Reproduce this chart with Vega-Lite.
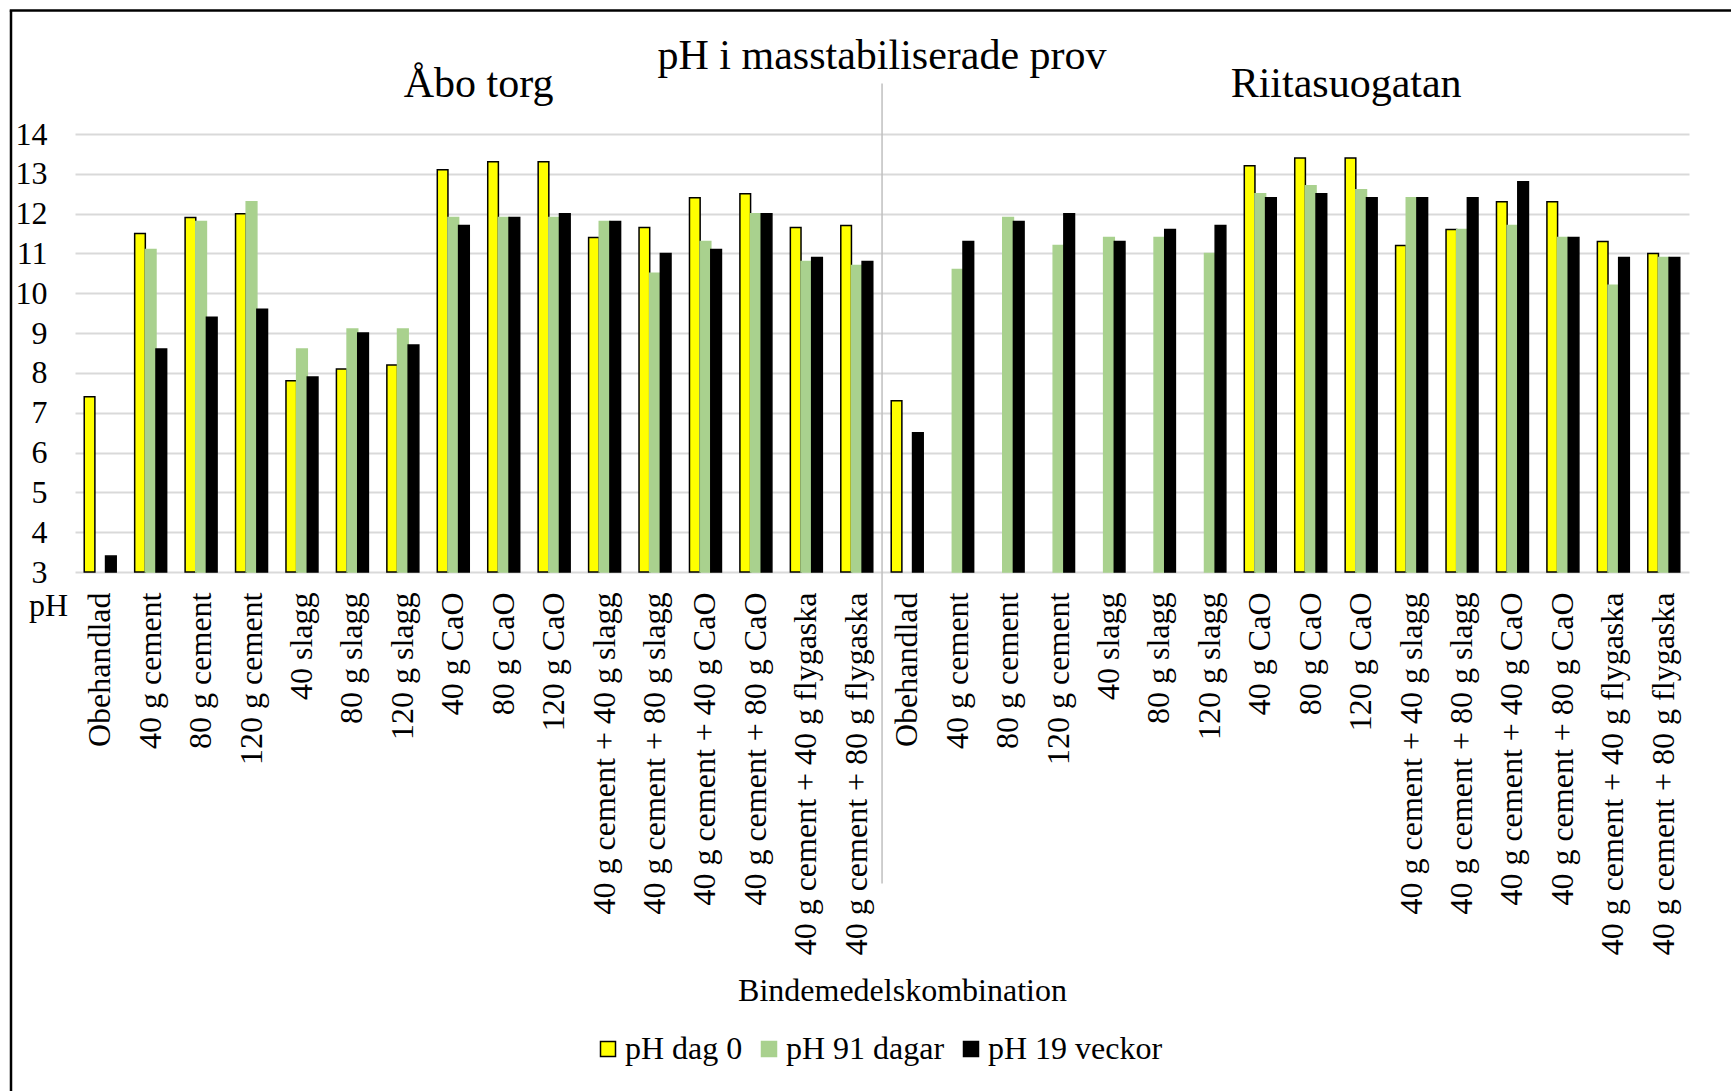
{
  "$schema": "https://vega.github.io/schema/vega-lite/v6.json",
  "width": 1614,
  "height": 438,
  "autosize": {"type": "none"},
  "padding": {"left": 75, "top": 134, "right": 42, "bottom": 519},
  "background": "white",
  "config": {"font": "Liberation Serif", "view": {"stroke": null}},
  "layer": [
    {
      "data": {"values": [
        {"key": "Åbo torg|Obehandlad", "series": "pH dag 0", "value": 7.4},
        {"key": "Åbo torg|Obehandlad", "series": "pH 19 veckor", "value": 3.4},
        {"key": "Åbo torg|40 g cement", "series": "pH dag 0", "value": 11.5},
        {"key": "Åbo torg|40 g cement", "series": "pH 91 dagar", "value": 11.1},
        {"key": "Åbo torg|40 g cement", "series": "pH 19 veckor", "value": 8.6},
        {"key": "Åbo torg|80 g cement", "series": "pH dag 0", "value": 11.9},
        {"key": "Åbo torg|80 g cement", "series": "pH 91 dagar", "value": 11.8},
        {"key": "Åbo torg|80 g cement", "series": "pH 19 veckor", "value": 9.4},
        {"key": "Åbo torg|120 g cement", "series": "pH dag 0", "value": 12.0},
        {"key": "Åbo torg|120 g cement", "series": "pH 91 dagar", "value": 12.3},
        {"key": "Åbo torg|120 g cement", "series": "pH 19 veckor", "value": 9.6},
        {"key": "Åbo torg|40 slagg", "series": "pH dag 0", "value": 7.8},
        {"key": "Åbo torg|40 slagg", "series": "pH 91 dagar", "value": 8.6},
        {"key": "Åbo torg|40 slagg", "series": "pH 19 veckor", "value": 7.9},
        {"key": "Åbo torg|80 g slagg", "series": "pH dag 0", "value": 8.1},
        {"key": "Åbo torg|80 g slagg", "series": "pH 91 dagar", "value": 9.1},
        {"key": "Åbo torg|80 g slagg", "series": "pH 19 veckor", "value": 9.0},
        {"key": "Åbo torg|120 g slagg", "series": "pH dag 0", "value": 8.2},
        {"key": "Åbo torg|120 g slagg", "series": "pH 91 dagar", "value": 9.1},
        {"key": "Åbo torg|120 g slagg", "series": "pH 19 veckor", "value": 8.7},
        {"key": "Åbo torg|40 g CaO", "series": "pH dag 0", "value": 13.1},
        {"key": "Åbo torg|40 g CaO", "series": "pH 91 dagar", "value": 11.9},
        {"key": "Åbo torg|40 g CaO", "series": "pH 19 veckor", "value": 11.7},
        {"key": "Åbo torg|80 g CaO", "series": "pH dag 0", "value": 13.3},
        {"key": "Åbo torg|80 g CaO", "series": "pH 91 dagar", "value": 11.9},
        {"key": "Åbo torg|80 g CaO", "series": "pH 19 veckor", "value": 11.9},
        {"key": "Åbo torg|120 g CaO", "series": "pH dag 0", "value": 13.3},
        {"key": "Åbo torg|120 g CaO", "series": "pH 91 dagar", "value": 11.9},
        {"key": "Åbo torg|120 g CaO", "series": "pH 19 veckor", "value": 12.0},
        {"key": "Åbo torg|40 g cement + 40 g slagg", "series": "pH dag 0", "value": 11.4},
        {"key": "Åbo torg|40 g cement + 40 g slagg", "series": "pH 91 dagar", "value": 11.8},
        {"key": "Åbo torg|40 g cement + 40 g slagg", "series": "pH 19 veckor", "value": 11.8},
        {"key": "Åbo torg|40 g cement + 80 g slagg", "series": "pH dag 0", "value": 11.65},
        {"key": "Åbo torg|40 g cement + 80 g slagg", "series": "pH 91 dagar", "value": 10.5},
        {"key": "Åbo torg|40 g cement + 80 g slagg", "series": "pH 19 veckor", "value": 11.0},
        {"key": "Åbo torg|40 g cement + 40 g CaO", "series": "pH dag 0", "value": 12.4},
        {"key": "Åbo torg|40 g cement + 40 g CaO", "series": "pH 91 dagar", "value": 11.3},
        {"key": "Åbo torg|40 g cement + 40 g CaO", "series": "pH 19 veckor", "value": 11.1},
        {"key": "Åbo torg|40 g cement + 80 g CaO", "series": "pH dag 0", "value": 12.5},
        {"key": "Åbo torg|40 g cement + 80 g CaO", "series": "pH 91 dagar", "value": 12.0},
        {"key": "Åbo torg|40 g cement + 80 g CaO", "series": "pH 19 veckor", "value": 12.0},
        {"key": "Åbo torg|40 g cement + 40 g flygaska", "series": "pH dag 0", "value": 11.65},
        {"key": "Åbo torg|40 g cement + 40 g flygaska", "series": "pH 91 dagar", "value": 10.8},
        {"key": "Åbo torg|40 g cement + 40 g flygaska", "series": "pH 19 veckor", "value": 10.9},
        {"key": "Åbo torg|40 g cement + 80 g flygaska", "series": "pH dag 0", "value": 11.7},
        {"key": "Åbo torg|40 g cement + 80 g flygaska", "series": "pH 91 dagar", "value": 10.7},
        {"key": "Åbo torg|40 g cement + 80 g flygaska", "series": "pH 19 veckor", "value": 10.8},
        {"key": "Riitasuogatan|Obehandlad", "series": "pH dag 0", "value": 7.3},
        {"key": "Riitasuogatan|Obehandlad", "series": "pH 19 veckor", "value": 6.5},
        {"key": "Riitasuogatan|40 g cement", "series": "pH 91 dagar", "value": 10.6},
        {"key": "Riitasuogatan|40 g cement", "series": "pH 19 veckor", "value": 11.3},
        {"key": "Riitasuogatan|80 g cement", "series": "pH 91 dagar", "value": 11.9},
        {"key": "Riitasuogatan|80 g cement", "series": "pH 19 veckor", "value": 11.8},
        {"key": "Riitasuogatan|120 g cement", "series": "pH 91 dagar", "value": 11.2},
        {"key": "Riitasuogatan|120 g cement", "series": "pH 19 veckor", "value": 12.0},
        {"key": "Riitasuogatan|40 slagg", "series": "pH 91 dagar", "value": 11.4},
        {"key": "Riitasuogatan|40 slagg", "series": "pH 19 veckor", "value": 11.3},
        {"key": "Riitasuogatan|80 g slagg", "series": "pH 91 dagar", "value": 11.4},
        {"key": "Riitasuogatan|80 g slagg", "series": "pH 19 veckor", "value": 11.6},
        {"key": "Riitasuogatan|120 g slagg", "series": "pH 91 dagar", "value": 11.0},
        {"key": "Riitasuogatan|120 g slagg", "series": "pH 19 veckor", "value": 11.7},
        {"key": "Riitasuogatan|40 g CaO", "series": "pH dag 0", "value": 13.2},
        {"key": "Riitasuogatan|40 g CaO", "series": "pH 91 dagar", "value": 12.5},
        {"key": "Riitasuogatan|40 g CaO", "series": "pH 19 veckor", "value": 12.4},
        {"key": "Riitasuogatan|80 g CaO", "series": "pH dag 0", "value": 13.4},
        {"key": "Riitasuogatan|80 g CaO", "series": "pH 91 dagar", "value": 12.7},
        {"key": "Riitasuogatan|80 g CaO", "series": "pH 19 veckor", "value": 12.5},
        {"key": "Riitasuogatan|120 g CaO", "series": "pH dag 0", "value": 13.4},
        {"key": "Riitasuogatan|120 g CaO", "series": "pH 91 dagar", "value": 12.6},
        {"key": "Riitasuogatan|120 g CaO", "series": "pH 19 veckor", "value": 12.4},
        {"key": "Riitasuogatan|40 g cement + 40 g slagg", "series": "pH dag 0", "value": 11.2},
        {"key": "Riitasuogatan|40 g cement + 40 g slagg", "series": "pH 91 dagar", "value": 12.4},
        {"key": "Riitasuogatan|40 g cement + 40 g slagg", "series": "pH 19 veckor", "value": 12.4},
        {"key": "Riitasuogatan|40 g cement + 80 g slagg", "series": "pH dag 0", "value": 11.6},
        {"key": "Riitasuogatan|40 g cement + 80 g slagg", "series": "pH 91 dagar", "value": 11.6},
        {"key": "Riitasuogatan|40 g cement + 80 g slagg", "series": "pH 19 veckor", "value": 12.4},
        {"key": "Riitasuogatan|40 g cement + 40 g CaO", "series": "pH dag 0", "value": 12.3},
        {"key": "Riitasuogatan|40 g cement + 40 g CaO", "series": "pH 91 dagar", "value": 11.7},
        {"key": "Riitasuogatan|40 g cement + 40 g CaO", "series": "pH 19 veckor", "value": 12.8},
        {"key": "Riitasuogatan|40 g cement + 80 g CaO", "series": "pH dag 0", "value": 12.3},
        {"key": "Riitasuogatan|40 g cement + 80 g CaO", "series": "pH 91 dagar", "value": 11.4},
        {"key": "Riitasuogatan|40 g cement + 80 g CaO", "series": "pH 19 veckor", "value": 11.4},
        {"key": "Riitasuogatan|40 g cement + 40 g flygaska", "series": "pH dag 0", "value": 11.3},
        {"key": "Riitasuogatan|40 g cement + 40 g flygaska", "series": "pH 91 dagar", "value": 10.2},
        {"key": "Riitasuogatan|40 g cement + 40 g flygaska", "series": "pH 19 veckor", "value": 10.9},
        {"key": "Riitasuogatan|40 g cement + 80 g flygaska", "series": "pH dag 0", "value": 11.0},
        {"key": "Riitasuogatan|40 g cement + 80 g flygaska", "series": "pH 91 dagar", "value": 10.9},
        {"key": "Riitasuogatan|40 g cement + 80 g flygaska", "series": "pH 19 veckor", "value": 10.9}
      ]},
      "mark": {"type": "bar", "strokeWidth": 1.5},
      "encoding": {
        "x": {
          "field": "key", "type": "nominal", "sort": null,
          "scale": {"paddingInner": 0.366, "paddingOuter": 0.183},
          "axis": {
            "labelExpr": "split(datum.value, '|')[1]",
            "labelAngle": -90, "labelAlign": "right", "labelBaseline": "middle",
            "labelFontSize": 32, "labelColor": "#000000", "labelPadding": 20,
            "labelLimit": 0, "labelOverlap": false,
            "domain": false, "ticks": false, "grid": false,
            "title": "Bindemedelskombination", "titleFontSize": 32, "titleFontWeight": "normal",
            "titleColor": "#000000", "titleX": 827, "titleY": 428,
            "titleAlign": "center", "titleBaseline": "alphabetic"
          }
        },
        "xOffset": {
          "field": "series", "type": "nominal",
          "scale": {"domain": ["pH dag 0", "pH 91 dagar", "pH 19 veckor"], "paddingInner": 0, "paddingOuter": 0}
        },
        "y": {
          "field": "value", "type": "quantitative",
          "scale": {"domain": [3, 14], "nice": false, "zero": false},
          "axis": {
            "values": [3, 4, 5, 6, 7, 8, 9, 10, 11, 12, 13, 14],
            "tickCount": 12,
            "grid": true, "gridColor": "#D9D9D9", "gridWidth": 2,
            "domain": false, "ticks": false, "labelOverlap": false,
            "labelFontSize": 32, "labelColor": "#000000", "labelPadding": 28,
            "title": "pH", "titleAngle": 0, "titleFontSize": 32, "titleFontWeight": "normal",
            "titleColor": "#000000", "titleX": -27, "titleY": 481,
            "titleAlign": "center", "titleBaseline": "alphabetic"
          }
        },
        "y2": {"datum": 3},
        "color": {
          "field": "series", "type": "nominal",
          "scale": {"domain": ["pH dag 0", "pH 91 dagar", "pH 19 veckor"], "range": ["#FFFF00", "#A9D18E", "#000000"]},
          "legend": {
            "title": null, "orient": "none", "legendX": 517, "legendY": 899,
            "direction": "horizontal", "padding": 0, "symbolType": "square", "symbolSize": 225,
            "symbolStrokeWidth": 1.5, "labelFontSize": 32, "labelColor": "#000000",
            "labelOffset": 1, "columnPadding": 10, "gridAlign": "each", "labelLimit": 0
          }
        },
        "stroke": {
          "field": "series", "type": "nominal",
          "scale": {"domain": ["pH dag 0", "pH 91 dagar", "pH 19 veckor"], "range": ["#000000", "#A9D18E", "#000000"]},
          "legend": {
            "title": null, "orient": "none", "legendX": 517, "legendY": 899,
            "direction": "horizontal", "padding": 0, "symbolType": "square", "symbolSize": 225,
            "symbolStrokeWidth": 1.5, "labelFontSize": 32, "labelColor": "#000000",
            "labelOffset": 1, "columnPadding": 10, "gridAlign": "each", "labelLimit": 0
          }
        }
      }
    },
    {
      "data": {"values": [
        {"key": "Åbo torg|40 g cement + 80 g flygaska", "top": 15.27, "bottom": -4.82}
      ]},
      "mark": {"type": "rule", "color": "#BFBFBF", "strokeWidth": 1.5},
      "encoding": {
        "x": {"field": "key", "type": "nominal", "sort": null, "bandPosition": 1.29},
        "y": {"field": "top", "type": "quantitative", "scale": {"domain": [3, 14], "nice": false, "zero": false}},
        "y2": {"field": "bottom"}
      }
    },
    {
      "data": {"values": [
        {"key": "Åbo torg|Obehandlad", "top": 17.1, "bottom": -10.1}
      ]},
      "mark": {"type": "rule", "color": "#000000", "strokeWidth": 2.5},
      "encoding": {
        "x": {"field": "key", "type": "nominal", "sort": null, "bandPosition": -2.29},
        "y": {"field": "top", "type": "quantitative", "scale": {"domain": [3, 14], "nice": false, "zero": false}},
        "y2": {"field": "bottom"}
      }
    },
    {
      "data": {"values": [
        {"key": "Åbo torg|Obehandlad", "key2": "Riitasuogatan|40 g cement + 80 g flygaska", "top": 17.1}
      ]},
      "mark": {"type": "rule", "color": "#000000", "strokeWidth": 2.5},
      "encoding": {
        "x": {"field": "key", "type": "nominal", "sort": null, "bandPosition": -2.33},
        "x2": {"field": "key2", "bandPosition": 2.7},
        "y": {"field": "top", "type": "quantitative", "scale": {"domain": [3, 14], "nice": false, "zero": false}}
      }
    },
    {
      "data": {"values": [
        {"key": "Åbo torg|40 g cement + 80 g flygaska", "label": "pH i masstabiliserade prov", "ypos": 15.62},
        {"key": "Åbo torg|40 g CaO", "label": "Åbo torg", "ypos": 14.92}
      ]},
      "mark": {"type": "text", "fontSize": 42, "align": "center", "baseline": "alphabetic", "color": "#000000"},
      "encoding": {
        "x": {"field": "key", "type": "nominal", "sort": null, "bandPosition": 1.29},
        "y": {"field": "ypos", "type": "quantitative", "scale": {"domain": [3, 14], "nice": false, "zero": false}},
        "text": {"field": "label"}
      }
    },
    {
      "data": {"values": [
        {"key": "Riitasuogatan|120 g CaO", "label": "Riitasuogatan", "ypos": 14.92}
      ]},
      "mark": {"type": "text", "fontSize": 42, "align": "center", "baseline": "alphabetic", "color": "#000000"},
      "encoding": {
        "x": {"field": "key", "type": "nominal", "sort": null, "bandPosition": 0.03},
        "y": {"field": "ypos", "type": "quantitative", "scale": {"domain": [3, 14], "nice": false, "zero": false}},
        "text": {"field": "label"}
      }
    }
  ]
}
